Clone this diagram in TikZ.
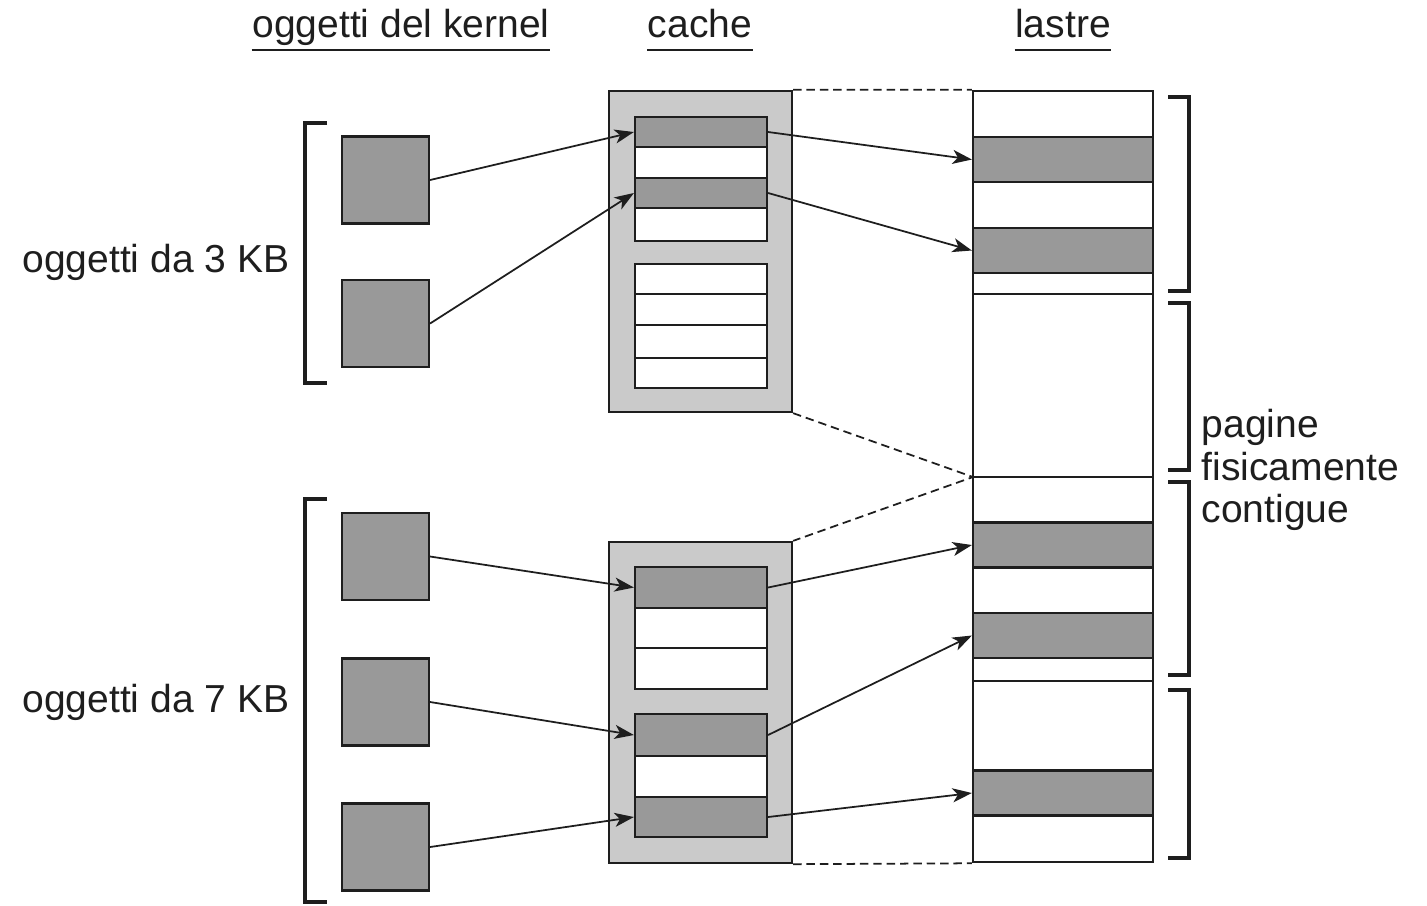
\documentclass[tikz,border=0pt]{standalone}
\usepackage{fontspec}
\setmainfont{Liberation Sans}
\usetikzlibrary{positioning, arrows.meta}
\definecolor{objgrey}{RGB}{153,153,153}
\definecolor{cachegrey}{RGB}{202,202,202}
\definecolor{inkgrey}{RGB}{30,30,30}

\tikzset{
    title/.style={anchor=base, inner sep=0pt, text=inkgrey},
    lbl/.style={inner sep=0pt, text=inkgrey},
    obj/.style={draw=inkgrey, line width=0.6pt, fill=objgrey, minimum width=0.87cm, minimum height=0.87cm, inner sep=0pt},
    cachebox/.style={draw=inkgrey, line width=0.6pt, fill=cachegrey, minimum width=1.83cm, minimum height=3.21cm, inner sep=0pt},
    slot/.style={draw=inkgrey, line width=0.6pt, minimum width=1.32cm, inner sep=0pt},
    slab/.style={draw=inkgrey, line width=0.6pt, fill=white, minimum width=1.80cm, minimum height=7.71cm, inner sep=0pt},
    band/.style={draw=inkgrey, line width=0.6pt, fill=objgrey, minimum width=1.80cm, minimum height=0.45cm, inner sep=0pt},
    ptr/.style={-{Stealth[length=5.5pt, width=4pt, inset=1.5pt]}, line width=0.5pt, inkgrey},
    brk/.style={line width=1.1pt, inkgrey},
    link/.style={dash pattern=on 2.4pt off 1.4pt, line width=0.5pt, inkgrey}
}

\begin{document}
\begin{tikzpicture}[x=0.01cm, y=-0.01cm, font=\fontsize{11.1}{12.1}\selectfont]
    \useasboundingbox (0,0) rectangle (1427,905);

    % column titles
    \foreach \name/\x/\txt in {tobj/401/oggetti del kernel, tcache/700/cache, tslab/1063/lastre}
    {
        \node[title] (\name) at (\x,37) {\txt};
        \draw[line width=0.6pt, inkgrey] ([yshift=-0.13cm]\name.base west) -- ([yshift=-0.13cm]\name.base east);
    }

    % caches
    \node[cachebox] (cacheA) at (700.5,251.5) {};
    \node[cachebox] (cacheB) at (700.5,702.5) {};

    %% slots
    \foreach \n/\y/\h/\f in {a1/132/0.30/objgrey, a2/162.5/0.31/white, a3/193/0.30/objgrey, a4/224.5/0.33/white,
                             a5/279/0.30/white, a6/309.5/0.31/white, a7/341.5/0.33/white, a8/373/0.30/white}
    {
        \node[slot, fill=\f, minimum height=\h cm] (\n) at (701,\y) {};
    }
    \foreach \n/\y/\h/\f in {b1/587.5/0.41/objgrey, b2/628/0.40/white, b3/668.5/0.41/white,
                             b4/735/0.42/objgrey, b5/776.5/0.41/white, b6/817/0.40/objgrey}
    {
        \node[slot, fill=\f, minimum height=\h cm] (\n) at (701,\y) {};
    }

    % slabs
    \node[slab] (slab) at (1063,476.5) {};
    \foreach \y in {294,477,681}
    {
        \draw[line width=0.6pt, inkgrey] (973,\y) -- (1153,\y);
    }
    \foreach \n/\y in {s1/159.5, s2/250.5, s3/545, s4/635.5, s5/793}
    {
        \node[band] (\n) at (1063,\y) {};
    }

    % kernel objects
    \foreach \n/\y in {o1/180, o2/323.5, o3/556.5, o4/702, o5/847}
    {
        \node[obj] (\n) at (385.5,\y) {};
    }

    % pointers
    \foreach \a/\b in {o1/a1, o2/a3, o3/b1, o4/b4, o5/b6, a1/s1, a3/s2, b1/s3, b4/s4, b6/s5}
    {
        \draw[ptr] (\a.east) -- (\b.west);
    }

    % cache to slab
    \coordinate (pg) at (973,477);
    \draw[link] (cacheA.north east) -- (slab.north west);
    \draw[link] (cacheA.south east) -- (pg) -- (cacheB.north east);
    \draw[link] (cacheB.south east) -- (slab.south west);

    % brackets
    \draw[brk] (327,123) -| (305,383) -- (327,383);
    \draw[brk] (327,499) -| (305,902) -- (327,902);
    \foreach \t/\b in {97/291, 303/470, 482/675, 690/858}
    {
        \draw[brk] (1168,\t) -| (1189,\b) -- (1168,\b);
    }

    % labels
    \node[lbl, anchor=base east] (l3) at (290,272) {oggetti da 3 KB};
    \node[lbl, anchor=base east] (l7) at (290,712) {oggetti da 7 KB};
    \node[lbl, align=left, anchor=west] (pages) at (1201,470) {pagine\\fisicamente\\contigue};
\end{tikzpicture}
\end{document}
